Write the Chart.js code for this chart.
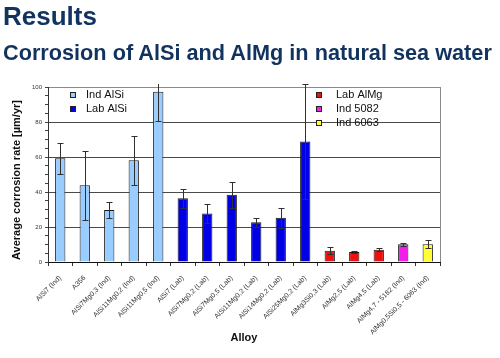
<!DOCTYPE html>
<html>
<head>
<meta charset="utf-8">
<script src="https://cdn.jsdelivr.net/npm/chart.js@4.4.1/dist/chart.umd.min.js"></script>
<style>
  html, body { margin: 0; padding: 0; background: #ffffff; }
  #wrap { position: relative; width: 500px; height: 358px; overflow: hidden; }
  #c { position: absolute; left: 0; top: 0; }
  .h { position: absolute; left: 3px; margin: 0; font-family: 'Liberation Sans', Arial, sans-serif; font-weight: bold; color: #12335f; line-height: 1; white-space: nowrap; z-index: 2; }
  #h1 { top: 3px; font-size: 26px; }
  #h2 { top: 42px; font-size: 21.7px; }
</style>
</head>
<body>
<div id="wrap">
  <div class="h" id="h1">Results</div>
  <div class="h" id="h2">Corrosion of AlSi and AlMg in natural sea water</div>
  <canvas id="c" width="500" height="358"></canvas>
</div>
<script>
// ---- data ----
const categories = [
  "AlSi7 (Ind)", "A356", "AlSi7Mg0,3 (Ind)", "AlSi11Mg0,2 (Ind)", "AlSi11Mg0,5 (Ind)",
  "AlSi7 (Lab)", "AlSi7Mg0,2 (Lab)", "AlSi7Mg0,5 (Lab)", "AlSi11Mg0,2 (Lab)", "AlSi14Mg0,2 (Lab)",
  "AlSi25Mg0,2 (Lab)", "AlMg3Si0,3 (Lab)", "AlMg2,5 (Lab)", "AlMg4,5 (Lab)",
  "AlMg4,7 - 5182 (Ind)", "AlMg0,5Si0,5 - 6063 (Ind)"
];
const seriesNames = ["Ind AlSi", "Lab AlSi", "Lab AlMg", "Ind 5082", "Ind 6063"];
const indAlSi = [59.3, 43.8, 29.7, 58.1, 97.3, null, null, null, null, null, null, null, null, null, null, null];
const labAlSi = [null, null, null, null, null, 36.4, 27.7, 38.4, 22.7, 25.3, 68.8, null, null, null, null, null];
const labAlMg = [null, null, null, null, null, null, null, null, null, null, null, 6.5, 5.7, 7.0, null, null];
const ind5082 = [null, null, null, null, null, null, null, null, null, null, null, null, null, null, 10.1, null];
const ind6063 = [null, null, null, null, null, null, null, null, null, null, null, null, null, null, null, 10.1];
const errors  = [8.8, 19.6, 4.7, 14.0, 17.0, 5.5, 5.4, 7.6, 2.6, 5.7, 33.0, 1.9, 0.5, 0.9, 0.9, 2.3];
const yTicks  = [0, 20, 40, 60, 80, 100];

const FONT = "'Liberation Sans', Arial, sans-serif";

const errorBars = {
  id: 'errorBars',
  afterDatasetsDraw(chart) {
    const ctx = chart.ctx, y = chart.scales.y, area = chart.chartArea;
    ctx.save();
    ctx.beginPath();
    ctx.rect(area.left, area.top - 3, area.right - area.left, area.bottom - area.top + 3);
    ctx.clip();
    ctx.strokeStyle = '#303030';
    ctx.lineWidth = 1;
    chart.data.datasets.forEach((ds, di) => {
      const meta = chart.getDatasetMeta(di);
      ds.data.forEach((v, i) => {
        if (v === null) return;
        const x = Math.round(meta.data[i].x) + 0.5;
        const yt = Math.round(y.getPixelForValue(v + errors[i])) + 0.5;
        const yb = Math.round(y.getPixelForValue(v - errors[i])) + 0.5;
        ctx.beginPath();
        ctx.moveTo(x, yt); ctx.lineTo(x, yb);
        ctx.moveTo(x - 3, yt); ctx.lineTo(x + 3, yt);
        ctx.moveTo(x - 3, yb); ctx.lineTo(x + 3, yb);
        ctx.stroke();
      });
    });
    ctx.restore();
  }
};

const frameAndLegend = {
  id: 'frameAndLegend',
  afterDraw(chart) {
    const ctx = chart.ctx, area = chart.chartArea;
    ctx.save();
    ctx.strokeStyle = '#8a8a8a';
    ctx.lineWidth = 1;
    ctx.beginPath();
    ctx.moveTo(Math.round(area.right) + 0.5, area.top);
    ctx.lineTo(Math.round(area.right) + 0.5, area.bottom);
    ctx.stroke();
    const groups = [
      { x: 70, y: 95, tx: 16, idx: [0, 1] },
      { x: 316, y: 95, tx: 20, idx: [2, 3, 4] }
    ];
    ctx.font = '11px ' + FONT;
    ctx.textBaseline = 'middle';
    ctx.textAlign = 'left';
    groups.forEach(g => {
      g.idx.forEach((di, k) => {
        const ds = chart.data.datasets[di];
        const yy = g.y + k * 14;
        ctx.fillStyle = ds.backgroundColor;
        ctx.fillRect(g.x, yy - 3, 6, 6);
        ctx.strokeStyle = '#222';
        ctx.strokeRect(g.x + 0.5, yy - 2.5, 5, 5);
        ctx.fillStyle = '#111';
        ctx.fillText(ds.label, g.x + g.tx, yy);
      });
    });
    ctx.restore();
  }
};

function mk(label, data, color) {
  return {
    label, data,
    backgroundColor: color,
    borderColor: '#1a1a1a',
    borderWidth: 1,
    grouped: false,
    barPercentage: 0.42,
    categoryPercentage: 1
  };
}

new Chart(document.getElementById('c'), {
  type: 'bar',
  data: {
    labels: categories,
    datasets: [
      mk(seriesNames[0], indAlSi, '#99ccff'),
      mk(seriesNames[1], labAlSi, '#0000e6'),
      mk(seriesNames[2], labAlMg, '#ee1111'),
      mk(seriesNames[3], ind5082, '#f020e8'),
      mk(seriesNames[4], ind6063, '#ffff33')
    ]
  },
  options: {
    responsive: false,
    animation: false,
    layout: { padding: { top: 87, right: 60, left: 0, bottom: 0 } },
    plugins: { legend: { display: false }, tooltip: { enabled: false } },
    scales: {
      x: {
        afterFit(s) { s.height = 96; },
        grid: { drawOnChartArea: false, drawTicks: true, tickLength: 4, color: '#333', offset: true },
        border: { color: '#111', width: 1 },
        ticks: { autoSkip: false, minRotation: 45, maxRotation: 45, padding: 8, color: '#333', font: { family: FONT, size: 7 } },
        title: { display: true, text: 'Alloy', color: '#111', font: { family: FONT, size: 11, weight: 'bold' }, padding: { top: 0, bottom: 13 } }
      },
      y: {
        min: 0, max: 100,
        afterFit(s) { s.width = 48; },
        afterBuildTicks(s) {
          const t = [];
          for (let v = 0; v <= 100; v += 5) t.push({ value: v });
          s.ticks = t;
        },
        grid: {
          color: c => (yTicks.includes(c.tick.value) && c.tick.value > 0) ? (c.tick.value === 100 ? '#8a8a8a' : '#4a4a4a') : 'rgba(0,0,0,0)',
          tickColor: '#444',
          tickLength: 3,
          drawTicks: true
        },
        border: { color: '#333', width: 1 },
        ticks: {
          autoSkip: false,
          padding: 3,
          color: '#333',
          font: { family: FONT, size: 6 },
          callback: v => yTicks.includes(v) ? String(v) : ''
        },
        title: { display: true, text: 'Average corrosion rate [\u00b5m/yr]\u2003', color: '#111', font: { family: FONT, size: 11, weight: 'bold' }, padding: { top: 10, bottom: 0 } }
      }
    }
  },
  plugins: [errorBars, frameAndLegend]
});
</script>
</body>
</html>
